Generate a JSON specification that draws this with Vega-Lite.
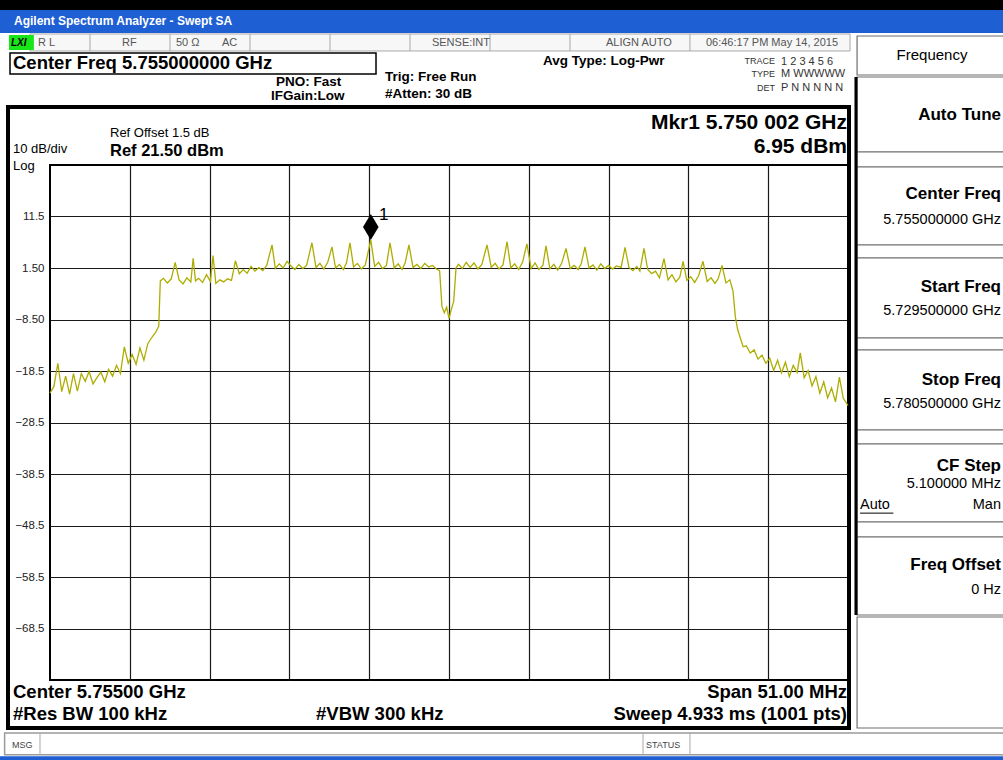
{
  "$schema": "https://vega.github.io/schema/vega-lite/v6.json",
  "width": 798,
  "height": 515,
  "autosize": {"type": "none"},
  "padding": {"left": 50, "top": 165, "right": 155, "bottom": 80},
  "background": "#ffffff",
  "config": {"view": {"stroke": "#000000", "strokeWidth": 2}, "font": "Liberation Sans"},
  "datasets": {
    "trace": [
      {"f":5729.5,"level":-22.8},{"f":5729.75,"level":-21.5},{"f":5730.0,"level":-17.0},{"f":5730.25,"level":-22.5},{"f":5730.5,"level":-19.5},{"f":5730.75,"level":-23.0},{"f":5731.0,"level":-19.0},{"f":5731.25,"level":-22.4},{"f":5731.5,"level":-19.0},{"f":5731.75,"level":-20.5},{"f":5732.0,"level":-18.6},{"f":5732.25,"level":-21.0},{"f":5732.5,"level":-19.8},{"f":5732.75,"level":-18.7},{"f":5733.0,"level":-20.6},{"f":5733.25,"level":-18.2},{"f":5733.5,"level":-19.5},{"f":5733.75,"level":-17.4},{"f":5734.0,"level":-19.0},{"f":5734.25,"level":-13.8},{"f":5734.5,"level":-17.0},{"f":5734.75,"level":-15.3},{"f":5735.0,"level":-17.2},{"f":5735.25,"level":-14.0},{"f":5735.5,"level":-16.4},{"f":5735.75,"level":-13.2},{"f":5736.0,"level":-12.0},{"f":5736.25,"level":-11.0},{"f":5736.45,"level":-9.8},{"f":5736.55,"level":-1.0},{"f":5736.75,"level":-0.5},
      {"f":5737.0,"level":-1.4},{"f":5737.25,"level":-0.6},{"f":5737.5,"level":2.6},{"f":5737.75,"level":-0.8},{"f":5738.0,"level":-1.6},{"f":5738.25,"level":-0.4},{"f":5738.5,"level":-1.2},{"f":5738.65,"level":3.4},{"f":5738.8,"level":-1.0},{"f":5739.0,"level":-0.5},{"f":5739.25,"level":-1.3},{"f":5739.5,"level":0.2},{"f":5739.75,"level":-1.1},{"f":5739.92,"level":3.9},{"f":5740.1,"level":-1.5},{"f":5740.35,"level":-0.8},{"f":5740.6,"level":-1.2},{"f":5740.85,"level":-0.6},{"f":5741.1,"level":-0.9},{"f":5741.35,"level":2.9},{"f":5741.6,"level":0.4},{"f":5741.85,"level":1.2},{"f":5742.1,"level":0.5},{"f":5742.35,"level":1.8},{"f":5742.6,"level":0.9},{"f":5742.85,"level":1.6},{"f":5743.1,"level":1.0},{"f":5743.35,"level":2.0},{"f":5743.69,"level":6.0},{"f":5743.9,"level":1.4},{"f":5744.15,"level":2.3},{"f":5744.4,"level":1.5},{"f":5744.65,"level":2.8},{"f":5744.9,"level":1.9},{"f":5745.15,"level":1.2},{"f":5745.4,"level":2.2},{"f":5745.65,"level":1.4},{"f":5745.9,"level":2.0},{"f":5746.24,"level":6.4},{"f":5746.5,"level":1.6},{"f":5746.75,"level":2.4},{"f":5747.0,"level":1.3},{"f":5747.25,"level":2.6},{"f":5747.52,"level":5.6},{"f":5747.75,"level":1.5},{"f":5748.0,"level":2.2},{"f":5748.25,"level":1.2},{"f":5748.45,"level":2.5},{"f":5748.67,"level":6.4},{"f":5748.9,"level":1.7},{"f":5749.15,"level":2.4},{"f":5749.4,"level":1.3},{"f":5749.65,"level":2.1},{"f":5750.0,"level":6.95},{"f":5750.25,"level":1.8},{"f":5750.5,"level":2.6},{"f":5750.75,"level":1.4},{"f":5751.0,"level":2.0},{"f":5751.23,"level":6.4},{"f":5751.5,"level":1.5},{"f":5751.75,"level":2.3},{"f":5752.0,"level":1.2},{"f":5752.2,"level":2.5},{"f":5752.44,"level":6.0},{"f":5752.7,"level":1.6},{"f":5752.95,"level":2.2},{"f":5753.2,"level":1.4},{"f":5753.45,"level":2.4},{"f":5753.7,"level":1.7},{"f":5753.95,"level":2.0},{"f":5754.2,"level":1.3},{"f":5754.4,"level":1.0},
      {"f":5754.55,"level":-6.0},{"f":5754.7,"level":-7.2},{"f":5754.85,"level":-6.1},{"f":5755.0,"level":-8.3},{"f":5755.15,"level":-6.5},{"f":5755.3,"level":-5.0},{"f":5755.45,"level":1.5},{"f":5755.6,"level":2.2},{"f":5755.85,"level":1.4},{"f":5756.1,"level":2.6},{"f":5756.35,"level":1.6},{"f":5756.6,"level":2.5},{"f":5756.85,"level":1.3},{"f":5757.1,"level":2.2},{"f":5757.43,"level":6.0},{"f":5757.7,"level":1.6},{"f":5757.95,"level":2.4},{"f":5758.2,"level":1.3},{"f":5758.45,"level":2.1},{"f":5758.71,"level":6.6},{"f":5758.95,"level":1.5},{"f":5759.2,"level":2.3},{"f":5759.45,"level":1.2},{"f":5759.7,"level":2.6},{"f":5759.98,"level":6.2},{"f":5760.25,"level":1.4},{"f":5760.5,"level":2.5},{"f":5760.75,"level":1.2},{"f":5761.0,"level":2.0},{"f":5761.2,"level":5.8},{"f":5761.45,"level":1.3},{"f":5761.7,"level":2.2},{"f":5761.95,"level":1.1},{"f":5762.2,"level":2.4},{"f":5762.48,"level":5.3},{"f":5762.75,"level":1.4},{"f":5763.0,"level":2.0},{"f":5763.25,"level":1.2},{"f":5763.45,"level":2.3},{"f":5763.69,"level":5.6},{"f":5763.95,"level":1.5},{"f":5764.2,"level":2.1},{"f":5764.45,"level":1.1},{"f":5764.7,"level":2.3},{"f":5764.95,"level":1.4},{"f":5765.2,"level":2.0},{"f":5765.45,"level":1.3},{"f":5765.7,"level":1.9},{"f":5766.0,"level":1.6},{"f":5766.25,"level":5.5},{"f":5766.5,"level":1.6},{"f":5766.75,"level":1.0},{"f":5767.0,"level":1.8},{"f":5767.2,"level":0.9},{"f":5767.46,"level":5.3},{"f":5767.7,"level":1.2},{"f":5767.95,"level":0.4},{"f":5768.2,"level":0.9},{"f":5768.45,"level":-0.4},{"f":5768.74,"level":3.3},{"f":5769.0,"level":-0.8},{"f":5769.25,"level":0.2},{"f":5769.5,"level":-1.2},{"f":5769.75,"level":-0.3},{"f":5769.96,"level":2.8},{"f":5770.2,"level":-0.9},{"f":5770.45,"level":-0.2},{"f":5770.7,"level":-1.3},{"f":5770.95,"level":0.0},{"f":5771.23,"level":2.8},{"f":5771.5,"level":-1.1},{"f":5771.75,"level":-0.4},{"f":5772.0,"level":-1.5},{"f":5772.2,"level":-0.6},{"f":5772.45,"level":2.0},{"f":5772.7,"level":-1.4},{"f":5772.95,"level":-0.8},
      {"f":5773.15,"level":-3.0},{"f":5773.3,"level":-8.0},{"f":5773.45,"level":-10.5},{"f":5773.6,"level":-11.9},{"f":5773.8,"level":-13.8},{"f":5774.0,"level":-13.6},{"f":5774.25,"level":-15.0},{"f":5774.5,"level":-14.4},{"f":5774.75,"level":-16.2},{"f":5775.0,"level":-15.4},{"f":5775.25,"level":-17.0},{"f":5775.5,"level":-16.0},{"f":5775.75,"level":-18.4},{"f":5776.0,"level":-16.4},{"f":5776.25,"level":-18.9},{"f":5776.5,"level":-16.8},{"f":5776.75,"level":-19.6},{"f":5777.0,"level":-17.4},{"f":5777.25,"level":-18.8},{"f":5777.45,"level":-15.0},{"f":5777.7,"level":-19.8},{"f":5777.95,"level":-18.4},{"f":5778.2,"level":-21.4},{"f":5778.45,"level":-19.6},{"f":5778.7,"level":-22.8},{"f":5778.95,"level":-20.6},{"f":5779.2,"level":-23.7},{"f":5779.45,"level":-21.8},{"f":5779.7,"level":-24.5},{"f":5779.95,"level":-19.7},{"f":5780.2,"level":-23.8},{"f":5780.5,"level":-25.2}
    ],
    "marker": [{"f": 5750.002, "level": 6.95, "label": "1"}],
    "boxes": [
      {"group":"black","f":5726.0,"f2":5791.0,"level":53.6,"level2":51.6},
      {"group":"blue","f":5726.0,"f2":5791.0,"level":51.6,"level2":47.13},
      {"group":"blue","f":5726.0,"f2":5791.0,"level":-93.3,"level2":-94.1},
      {"group":"status","f":5728.22,"f2":5780.63,"level":46.94,"level2":43.64},
      {"group":"lxi","f":5726.88,"f2":5728.47,"level":46.74,"level2":43.83},
      {"group":"box","f":5726.944,"f2":5750.335,"level":43.25,"level2":39.17},
      {"group":"frame","f":5726.816,"f2":5780.564,"level":32.76,"level2":-87.82},
      {"group":"msg","f":5726.6,"f2":5791.0,"level":-88.79,"level2":-93.0},
      {"group":"key","f":5781.08,"f2":5790.85,"level":46.55,"level2":38.98},
      {"group":"key","f":5781.08,"f2":5790.85,"level":38.59,"level2":24.02},
      {"group":"key","f":5781.08,"f2":5790.85,"level":24.02,"level2":21.11},
      {"group":"key","f":5781.08,"f2":5790.85,"level":21.11,"level2":5.97},
      {"group":"key","f":5781.08,"f2":5790.85,"level":5.97,"level2":3.44},
      {"group":"key","f":5781.08,"f2":5790.85,"level":3.44,"level2":-12.09},
      {"group":"key","f":5781.08,"f2":5790.85,"level":-12.09,"level2":-14.42},
      {"group":"key","f":5781.08,"f2":5790.85,"level":-14.42,"level2":-29.96},
      {"group":"key","f":5781.08,"f2":5790.85,"level":-29.96,"level2":-32.67},
      {"group":"key","f":5781.08,"f2":5790.85,"level":-32.67,"level2":-47.82},
      {"group":"key","f":5781.08,"f2":5790.85,"level":-47.82,"level2":-50.73},
      {"group":"key","f":5781.08,"f2":5790.85,"level":-50.73,"level2":-65.88},
      {"group":"key","f":5781.08,"f2":5790.85,"level":-66.27,"level2":-87.82}
    ],
    "dividers": [
      {"group":"cell","f":5732.056,"level":46.94,"level2":43.64},
      {"group":"cell","f":5737.169,"level":46.94,"level2":43.64},
      {"group":"cell","f":5742.282,"level":46.94,"level2":43.64},
      {"group":"cell","f":5747.395,"level":46.94,"level2":43.64},
      {"group":"cell","f":5752.508,"level":46.94,"level2":43.64},
      {"group":"cell","f":5757.62,"level":46.94,"level2":43.64},
      {"group":"cell","f":5762.733,"level":46.94,"level2":43.64},
      {"group":"cell","f":5770.4,"level":46.94,"level2":43.64},
      {"group":"cell","f":5728.86,"level":-88.79,"level2":-93.0},
      {"group":"cell","f":5767.4,"level":-88.79,"level2":-93.0},
      {"group":"cell","f":5770.4,"level":-88.79,"level2":-93.0},
      {"group":"keyedge","f":5781.01,"level":38.59,"level2":-65.88}
    ],
    "underlines": [
      {"group":"auto","f":5781.27,"f2":5783.4,"level":-46.1}
    ],
    "labels": [
      {"group":"window","text":"Agilent Spectrum Analyzer - Swept SA","f":5727.2,"level":49.46},
      {"group":"lxi","text":"LXI","f":5727.0,"level":45.19},
      {"group":"status","text":"R L","f":5728.733,"level":45.19},
      {"group":"status","text":"RF","f":5734.1,"level":45.19},
      {"group":"status","text":"50 Ω","f":5737.55,"level":45.19},
      {"group":"status","text":"AC","f":5740.49,"level":45.19},
      {"group":"status","text":"SENSE:INT","f":5753.91,"level":45.19},
      {"group":"status","text":"ALIGN AUTO","f":5765.03,"level":45.19},
      {"group":"status","text":"06:46:17 PM May 14, 2015","f":5771.42,"level":45.19},
      {"group":"headline","text":"Center Freq 5.755000000 GHz","f":5727.135,"level":41.31},
      {"group":"setting","text":"PNO: Fast","f":5743.944,"level":37.62},
      {"group":"setting","text":"IFGain:Low","f":5743.624,"level":34.9},
      {"group":"setting","text":"Trig: Free Run","f":5750.91,"level":38.59},
      {"group":"setting","text":"#Atten: 30 dB","f":5750.91,"level":35.29},
      {"group":"setting","text":"Avg Type: Log-Pwr","f":5761.008,"level":41.69},
      {"group":"tracekey","text":"TRACE","f":5775.835,"level":41.69},
      {"group":"tracekey","text":"TYPE","f":5775.835,"level":39.17},
      {"group":"tracekey","text":"DET","f":5775.835,"level":36.45},
      {"group":"traceval","text":"1 2 3 4 5 6","f":5776.22,"level":41.5},
      {"group":"traceval","text":"M WWWWW","f":5776.22,"level":39.17},
      {"group":"traceval","text":"P N N N N N","f":5776.22,"level":36.45},
      {"group":"readout","text":"Mkr1 5.750 002 GHz","f":5780.437,"level":29.66},
      {"group":"readout","text":"6.95 dBm","f":5780.437,"level":24.99},
      {"group":"scale","text":"Ref Offset 1.5 dB","f":5733.335,"level":27.71},
      {"group":"scale","text":"10 dB/div","f":5727.135,"level":24.6},
      {"group":"scale","text":"Log","f":5727.135,"level":21.3},
      {"group":"ref","text":"Ref 21.50 dBm","f":5733.335,"level":24.22},
      {"group":"footL","text":"Center 5.75500 GHz","f":5727.135,"level":-80.83},
      {"group":"footL","text":"#Res BW 100 kHz","f":5727.135,"level":-85.1},
      {"group":"footL","text":"#VBW 300 kHz","f":5746.5,"level":-85.1},
      {"group":"footR","text":"Span 51.00 MHz","f":5780.437,"level":-80.83},
      {"group":"footR","text":"Sweep  4.933 ms (1001 pts)","f":5780.437,"level":-85.1},
      {"group":"msg","text":"MSG","f":5727.07,"level":-91.12},
      {"group":"msg","text":"STATUS","f":5767.59,"level":-91.12},
      {"group":"keyhead","text":"Frequency","f":5785.87,"level":42.86},
      {"group":"keytitle","text":"Auto Tune","f":5790.277,"level":31.21},
      {"group":"keytitle","text":"Center Freq","f":5790.277,"level":15.87},
      {"group":"keyvalue","text":"5.755000000 GHz","f":5790.277,"level":10.82},
      {"group":"keytitle","text":"Start Freq","f":5790.277,"level":-2.19},
      {"group":"keyvalue","text":"5.729500000 GHz","f":5790.277,"level":-6.85},
      {"group":"keytitle","text":"Stop Freq","f":5790.277,"level":-20.25},
      {"group":"keyvalue","text":"5.780500000 GHz","f":5790.277,"level":-24.91},
      {"group":"keytitle","text":"CF Step","f":5790.277,"level":-36.95},
      {"group":"keyvalue","text":"5.100000 MHz","f":5790.277,"level":-40.44},
      {"group":"keyvalue","text":"Man","f":5790.277,"level":-44.52},
      {"group":"keyauto","text":"Auto","f":5781.27,"level":-44.52},
      {"group":"keytitle","text":"Freq Offset","f":5790.277,"level":-56.17},
      {"group":"keyvalue","text":"0 Hz","f":5790.277,"level":-61.02}
    ]
  },
  "encoding": {
    "x": {
      "field": "f", "type": "quantitative",
      "scale": {"domain": [5729.5, 5780.5], "nice": false, "zero": false},
      "axis": {"values": [5734.6, 5739.7, 5744.8, 5749.9, 5755.0, 5760.1, 5765.2, 5770.3, 5775.4], "labels": false, "ticks": false, "domain": false, "title": null, "grid": true, "gridColor": "#1a1a1a", "gridWidth": 1.2}
    },
    "y": {
      "field": "level", "type": "quantitative",
      "scale": {"domain": [-78.5, 21.5], "nice": false, "zero": false},
      "axis": {"values": [-68.5, -58.5, -48.5, -38.5, -28.5, -18.5, -8.5, 1.5, 11.5], "format": ".3r", "ticks": false, "domain": false, "title": null, "grid": true, "gridColor": "#1a1a1a", "gridWidth": 1.2, "labelFont": "Liberation Sans", "labelFontSize": 11.5, "labelColor": "#222222", "labelPadding": 6}
    }
  },
  "layer": [
    {"data": {"name": "boxes"}, "transform": [{"filter": "datum.group === 'black'"}], "mark": {"type": "rect", "fill": "#000000"}, "encoding": {"x2": {"field": "f2"}, "y2": {"field": "level2"}}},
    {"data": {"name": "boxes"}, "transform": [{"filter": "datum.group === 'blue'"}], "mark": {"type": "rect", "fill": "#1f5fd4"}, "encoding": {"x2": {"field": "f2"}, "y2": {"field": "level2"}}},
    {"data": {"name": "boxes"}, "transform": [{"filter": "datum.group === 'status'"}], "mark": {"type": "rect", "fill": "#f7f7f7", "stroke": "#a8a8a8", "strokeWidth": 1}, "encoding": {"x2": {"field": "f2"}, "y2": {"field": "level2"}}},
    {"data": {"name": "boxes"}, "transform": [{"filter": "datum.group === 'lxi'"}], "mark": {"type": "rect", "fill": "#19e619"}, "encoding": {"x2": {"field": "f2"}, "y2": {"field": "level2"}}},
    {"data": {"name": "boxes"}, "transform": [{"filter": "datum.group === 'box'"}], "mark": {"type": "rect", "fill": "#ffffff", "stroke": "#000000", "strokeWidth": 1.5}, "encoding": {"x2": {"field": "f2"}, "y2": {"field": "level2"}}},
    {"data": {"name": "boxes"}, "transform": [{"filter": "datum.group === 'frame'"}], "mark": {"type": "rect", "fill": null, "stroke": "#000000", "strokeWidth": 4}, "encoding": {"x2": {"field": "f2"}, "y2": {"field": "level2"}}},
    {"data": {"name": "boxes"}, "transform": [{"filter": "datum.group === 'msg'"}], "mark": {"type": "rect", "fill": "#ffffff", "stroke": "#9a9a9a", "strokeWidth": 1.5}, "encoding": {"x2": {"field": "f2"}, "y2": {"field": "level2"}}},
    {"data": {"name": "boxes"}, "transform": [{"filter": "datum.group === 'key'"}], "mark": {"type": "rect", "fill": "#ffffff", "stroke": "#6e6e6e", "strokeWidth": 1.2}, "encoding": {"x2": {"field": "f2"}, "y2": {"field": "level2"}}},
    {"data": {"name": "dividers"}, "transform": [{"filter": "datum.group === 'cell'"}], "mark": {"type": "rule", "stroke": "#a8a8a8", "strokeWidth": 1}, "encoding": {"y2": {"field": "level2"}}},
    {"data": {"name": "dividers"}, "transform": [{"filter": "datum.group === 'keyedge'"}], "mark": {"type": "rule", "stroke": "#000000", "strokeWidth": 3}, "encoding": {"y2": {"field": "level2"}}},
    {"data": {"name": "underlines"}, "mark": {"type": "rule", "stroke": "#000000", "strokeWidth": 1}, "encoding": {"x2": {"field": "f2"}}},
    {"data": {"name": "trace"}, "mark": {"type": "line", "stroke": "#adad00", "strokeWidth": 1.3}, "encoding": {}},
    {"data": {"name": "marker"}, "mark": {"type": "point", "shape": "M0,-1L0.3,-0.5L0,0L-0.3,-0.5Z", "size": 2704, "filled": true, "fill": "#000000", "opacity": 1}, "encoding": {}},
    {"data": {"name": "marker"}, "mark": {"type": "text", "fontSize": 17, "dx": 13, "dy": -25, "align": "center", "baseline": "middle", "fill": "#000000"}, "encoding": {"text": {"field": "label"}}},
    {"data": {"name": "labels"}, "transform": [{"filter": "datum.group === 'window'"}], "mark": {"type": "text", "align": "left", "baseline": "middle", "fill": "#ffffff", "fontWeight": "bold", "fontSize": 12, "font": "Liberation Sans"}, "encoding": {"text": {"field": "text"}}},
    {"data": {"name": "labels"}, "transform": [{"filter": "datum.group === 'lxi'"}], "mark": {"type": "text", "align": "left", "baseline": "middle", "fill": "#000000", "fontWeight": "bold", "fontStyle": "italic", "fontSize": 10}, "encoding": {"text": {"field": "text"}}},
    {"data": {"name": "labels"}, "transform": [{"filter": "datum.group === 'status'"}], "mark": {"type": "text", "align": "left", "baseline": "middle", "fill": "#555555", "fontSize": 11}, "encoding": {"text": {"field": "text"}}},
    {"data": {"name": "labels"}, "transform": [{"filter": "datum.group === 'headline'"}], "mark": {"type": "text", "align": "left", "baseline": "middle", "fill": "#000000", "fontWeight": "bold", "fontSize": 18.5}, "encoding": {"text": {"field": "text"}}},
    {"data": {"name": "labels"}, "transform": [{"filter": "datum.group === 'setting'"}], "mark": {"type": "text", "align": "left", "baseline": "middle", "fill": "#000000", "fontWeight": "bold", "fontSize": 13.5}, "encoding": {"text": {"field": "text"}}},
    {"data": {"name": "labels"}, "transform": [{"filter": "datum.group === 'tracekey'"}], "mark": {"type": "text", "align": "right", "baseline": "middle", "fill": "#333333", "fontSize": 9}, "encoding": {"text": {"field": "text"}}},
    {"data": {"name": "labels"}, "transform": [{"filter": "datum.group === 'traceval'"}], "mark": {"type": "text", "align": "left", "baseline": "middle", "fill": "#333333", "fontSize": 11}, "encoding": {"text": {"field": "text"}}},
    {"data": {"name": "labels"}, "transform": [{"filter": "datum.group === 'readout'"}], "mark": {"type": "text", "align": "right", "baseline": "middle", "fill": "#000000", "fontWeight": "bold", "fontSize": 21}, "encoding": {"text": {"field": "text"}}},
    {"data": {"name": "labels"}, "transform": [{"filter": "datum.group === 'scale'"}], "mark": {"type": "text", "align": "left", "baseline": "middle", "fill": "#000000", "fontSize": 13}, "encoding": {"text": {"field": "text"}}},
    {"data": {"name": "labels"}, "transform": [{"filter": "datum.group === 'ref'"}], "mark": {"type": "text", "align": "left", "baseline": "middle", "fill": "#000000", "fontWeight": "bold", "fontSize": 16.5}, "encoding": {"text": {"field": "text"}}},
    {"data": {"name": "labels"}, "transform": [{"filter": "datum.group === 'footL'"}], "mark": {"type": "text", "align": "left", "baseline": "middle", "fill": "#000000", "fontWeight": "bold", "fontSize": 18.5}, "encoding": {"text": {"field": "text"}}},
    {"data": {"name": "labels"}, "transform": [{"filter": "datum.group === 'footR'"}], "mark": {"type": "text", "align": "right", "baseline": "middle", "fill": "#000000", "fontWeight": "bold", "fontSize": 18.5}, "encoding": {"text": {"field": "text"}}},
    {"data": {"name": "labels"}, "transform": [{"filter": "datum.group === 'msg'"}], "mark": {"type": "text", "align": "left", "baseline": "middle", "fill": "#444444", "fontSize": 9}, "encoding": {"text": {"field": "text"}}},
    {"data": {"name": "labels"}, "transform": [{"filter": "datum.group === 'keyhead'"}], "mark": {"type": "text", "align": "center", "baseline": "middle", "fill": "#000000", "fontSize": 15}, "encoding": {"text": {"field": "text"}}},
    {"data": {"name": "labels"}, "transform": [{"filter": "datum.group === 'keytitle'"}], "mark": {"type": "text", "align": "right", "baseline": "middle", "fill": "#000000", "fontWeight": "bold", "fontSize": 17}, "encoding": {"text": {"field": "text"}}},
    {"data": {"name": "labels"}, "transform": [{"filter": "datum.group === 'keyvalue'"}], "mark": {"type": "text", "align": "right", "baseline": "middle", "fill": "#000000", "fontSize": 14.5}, "encoding": {"text": {"field": "text"}}},
    {"data": {"name": "labels"}, "transform": [{"filter": "datum.group === 'keyauto'"}], "mark": {"type": "text", "align": "left", "baseline": "middle", "fill": "#000000", "fontSize": 14.5}, "encoding": {"text": {"field": "text"}}}
  ]
}
